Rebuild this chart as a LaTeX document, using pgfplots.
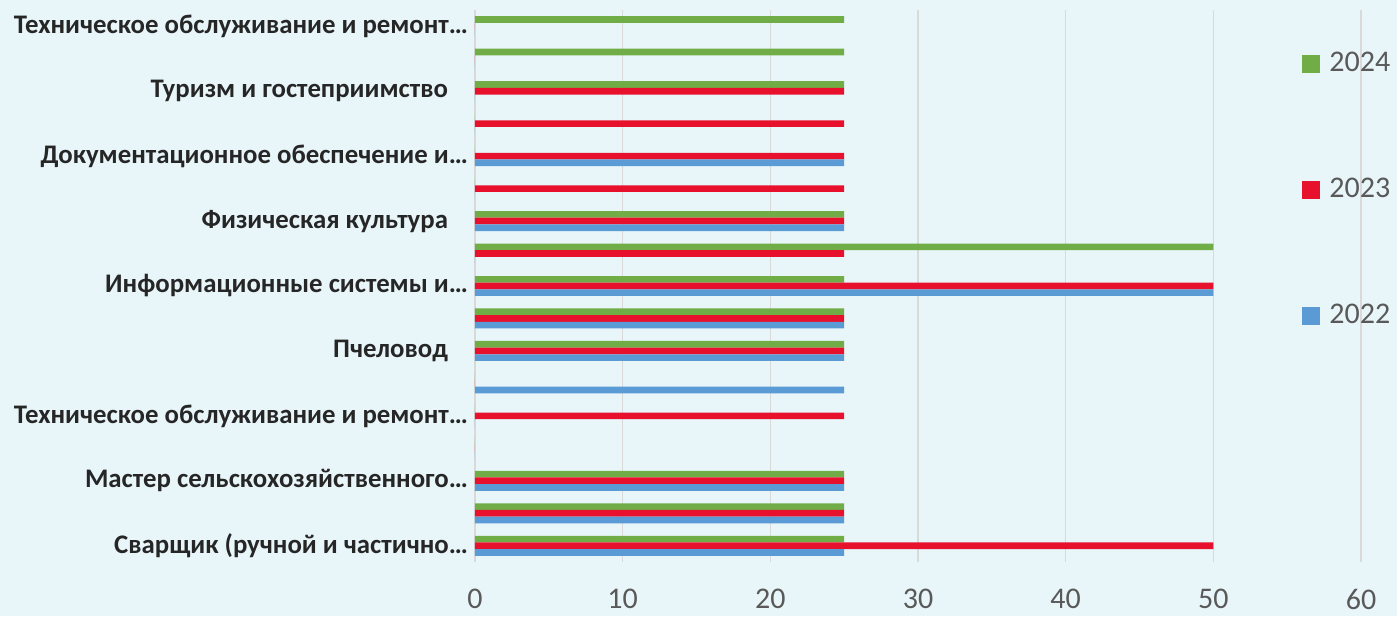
\documentclass[border=0pt]{standalone}
\usepackage{fontspec}
\setmainfont{Carlito}
\usepackage{pgfplots}
\pgfplotsset{compat=1.18}
\definecolor{bgc}{HTML}{E8F6FA}
\definecolor{gridc}{HTML}{D9D9D9}
\definecolor{tickc}{HTML}{595959}
\definecolor{labc}{HTML}{262626}
\definecolor{c24}{HTML}{70AD47}
\definecolor{c23}{HTML}{E8112D}
\definecolor{c22}{HTML}{5B9BD5}
\pgfplotsset{
  sq/.style={legend image code/.code={\fill[#1] (0pt,-4.5pt) rectangle (9pt,4.5pt);}},
}
\begin{document}
\begin{tikzpicture}
\fill[bgc] (-237.5pt,-27pt) rectangle (461pt,281pt);
\begin{axis}[
    scale only axis,
    width=443pt, height=276pt,
    xbar, bar width=3.33pt,
    xmin=0, xmax=60, ymin=-0.5, ymax=16.5,
    xtick={0,10,...,60},
    ytick={0,2,...,16},
    yticklabels={
      {Сварщик (ручной и частично…},
      {Мастер сельскохозяйственного…},
      {Техническое обслуживание и ремонт…},
      {Пчеловод\hspace*{10pt}},
      {Информационные системы и…},
      {Физическая культура\hspace*{10pt}},
      {Документационное обеспечение и…},
      {Туризм и гостеприимство\hspace*{10pt}},
      {Техническое обслуживание и ремонт…}},
    axis line style={draw=none},
    major tick length=0pt,
    xmajorgrids,
    major grid style={draw=gridc, line width=0.75pt},
    /pgf/number format/assume math mode=true,
    xticklabel style={font=\fontsize{15}{18}\selectfont, text=tickc, yshift=-10pt},
    yticklabel style={font=\bfseries\fontsize{13.4}{16}\selectfont, text=labc},
    legend cell align=left,
    legend style={at={(0.9334,0.9239)}, anchor=north west, draw=none, fill=none,
      font=\fontsize{15}{18}\selectfont, text=tickc,
      row sep=51.75pt, column sep=4.5pt, inner sep=0pt, nodes={inner sep=0pt}},
  ]
  % 2024
  \addplot[fill=c24, draw=none, bar shift=3.33pt, sq] coordinates {
    (25,0) (25,1) (25,2) (0,3) (0,4) (0,5) (25,6) (25,7) (25,8)
    (50,9) (25,10) (0,11) (0,12) (0,13) (25,14) (25,15) (25,16)};
  \addlegendentry{2024}
  % 2023
  \addplot[fill=c23, draw=none, bar shift=0pt, sq] coordinates {
    (50,0) (25,1) (25,2) (0,3) (25,4) (0,5) (25,6) (25,7) (50,8)
    (25,9) (25,10) (25,11) (25,12) (25,13) (25,14) (0,15) (0,16)};
  \addlegendentry{2023}
  % 2022
  \addplot[fill=c22, draw=none, bar shift=-3.33pt, sq] coordinates {
    (25,0) (25,1) (25,2) (0,3) (0,4) (25,5) (25,6) (25,7) (50,8)
    (0,9) (25,10) (0,11) (25,12) (0,13) (0,14) (0,15) (0,16)};
  \addlegendentry{2022}
\end{axis}
\pgfresetboundingbox
\useasboundingbox (-237.5pt,-27pt) rectangle (461pt,281pt);
\end{tikzpicture}
\end{document}
